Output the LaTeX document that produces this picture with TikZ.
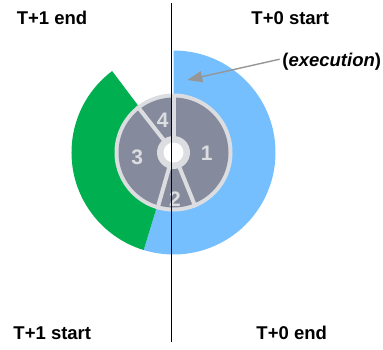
\documentclass[tikz,border=0pt]{standalone}
\usepackage{fontspec}
\setmainfont{Liberation Sans}
\usetikzlibrary{arrows.meta}
\definecolor{execblue}{RGB}{117,191,255}
\definecolor{nextgreen}{RGB}{0,176,80}
\definecolor{slicegray}{RGB}{133,139,157}
\definecolor{rimgray}{RGB}{220,221,225}
\definecolor{pointergray}{RGB}{150,150,150}
\begin{document}
\begin{tikzpicture}[x=1pt,y=1pt,
  phase/.style={font=\bfseries\fontsize{18.5}{20}\selectfont, inner sep=2.5pt},
  slicenum/.style={font=\bfseries\fontsize{21}{22}\selectfont, text=rimgray, inner sep=0pt},
  gapline/.style={draw=rimgray, line width=4pt}]
\useasboundingbox (0,0) rectangle (383,349);
\coordinate (C) at (173.5,196.5);

% outer cycle: current period (blue) and next period (green)
\fill[execblue] (C) -- ++(90:102) arc[start angle=90, end angle=-107, radius=102] -- cycle;
\fill[nextgreen] (C) -- ++(127:102) arc[start angle=127, end angle=253, radius=102] -- cycle;

% inner wheel with four slices
\fill[rimgray] (C) circle[radius=59];
\fill[slicegray] (C) circle[radius=55];
\foreach \a in {90,-68,-106,128}
  \draw[gapline] (C) -- ++(\a:59);
\fill[rimgray] (C) circle[radius=16.5];
\fill[white] (C) circle[radius=10];

\node[slicenum] (s1) at (206.7,195.7) {1};
\node[slicenum] (s2) at (175,149.7) {2};
\node[slicenum] (s3) at (137.3,191.7) {3};
\node[slicenum] (s4) at (162.7,229) {4};

% period divider
\coordinate (top) at (171.7,345.7);
\coordinate (bot) at (171.7,7.3);
\draw[black, line width=1.1pt] (top) -- (bot);

% phase labels
\node[phase] (t1e) at (52,330.7) {T+1 end};
\node[phase] (t0s) at (290.3,330.7) {T+0 start};
\node[phase] (t1s) at (52.3,16) {T+1 start};
\node[phase] (t0e) at (291.7,16) {T+0 end};
\node[phase] (exec) at (331.7,287.3) {(\textit{execution})};

\coordinate (tip) at (187.3,269);
\draw[pointergray, line width=1.4pt, -{Triangle[length=15pt,width=11pt]}]
  ([yshift=2.5pt]exec.west) -- (tip);
\end{tikzpicture}
\end{document}
